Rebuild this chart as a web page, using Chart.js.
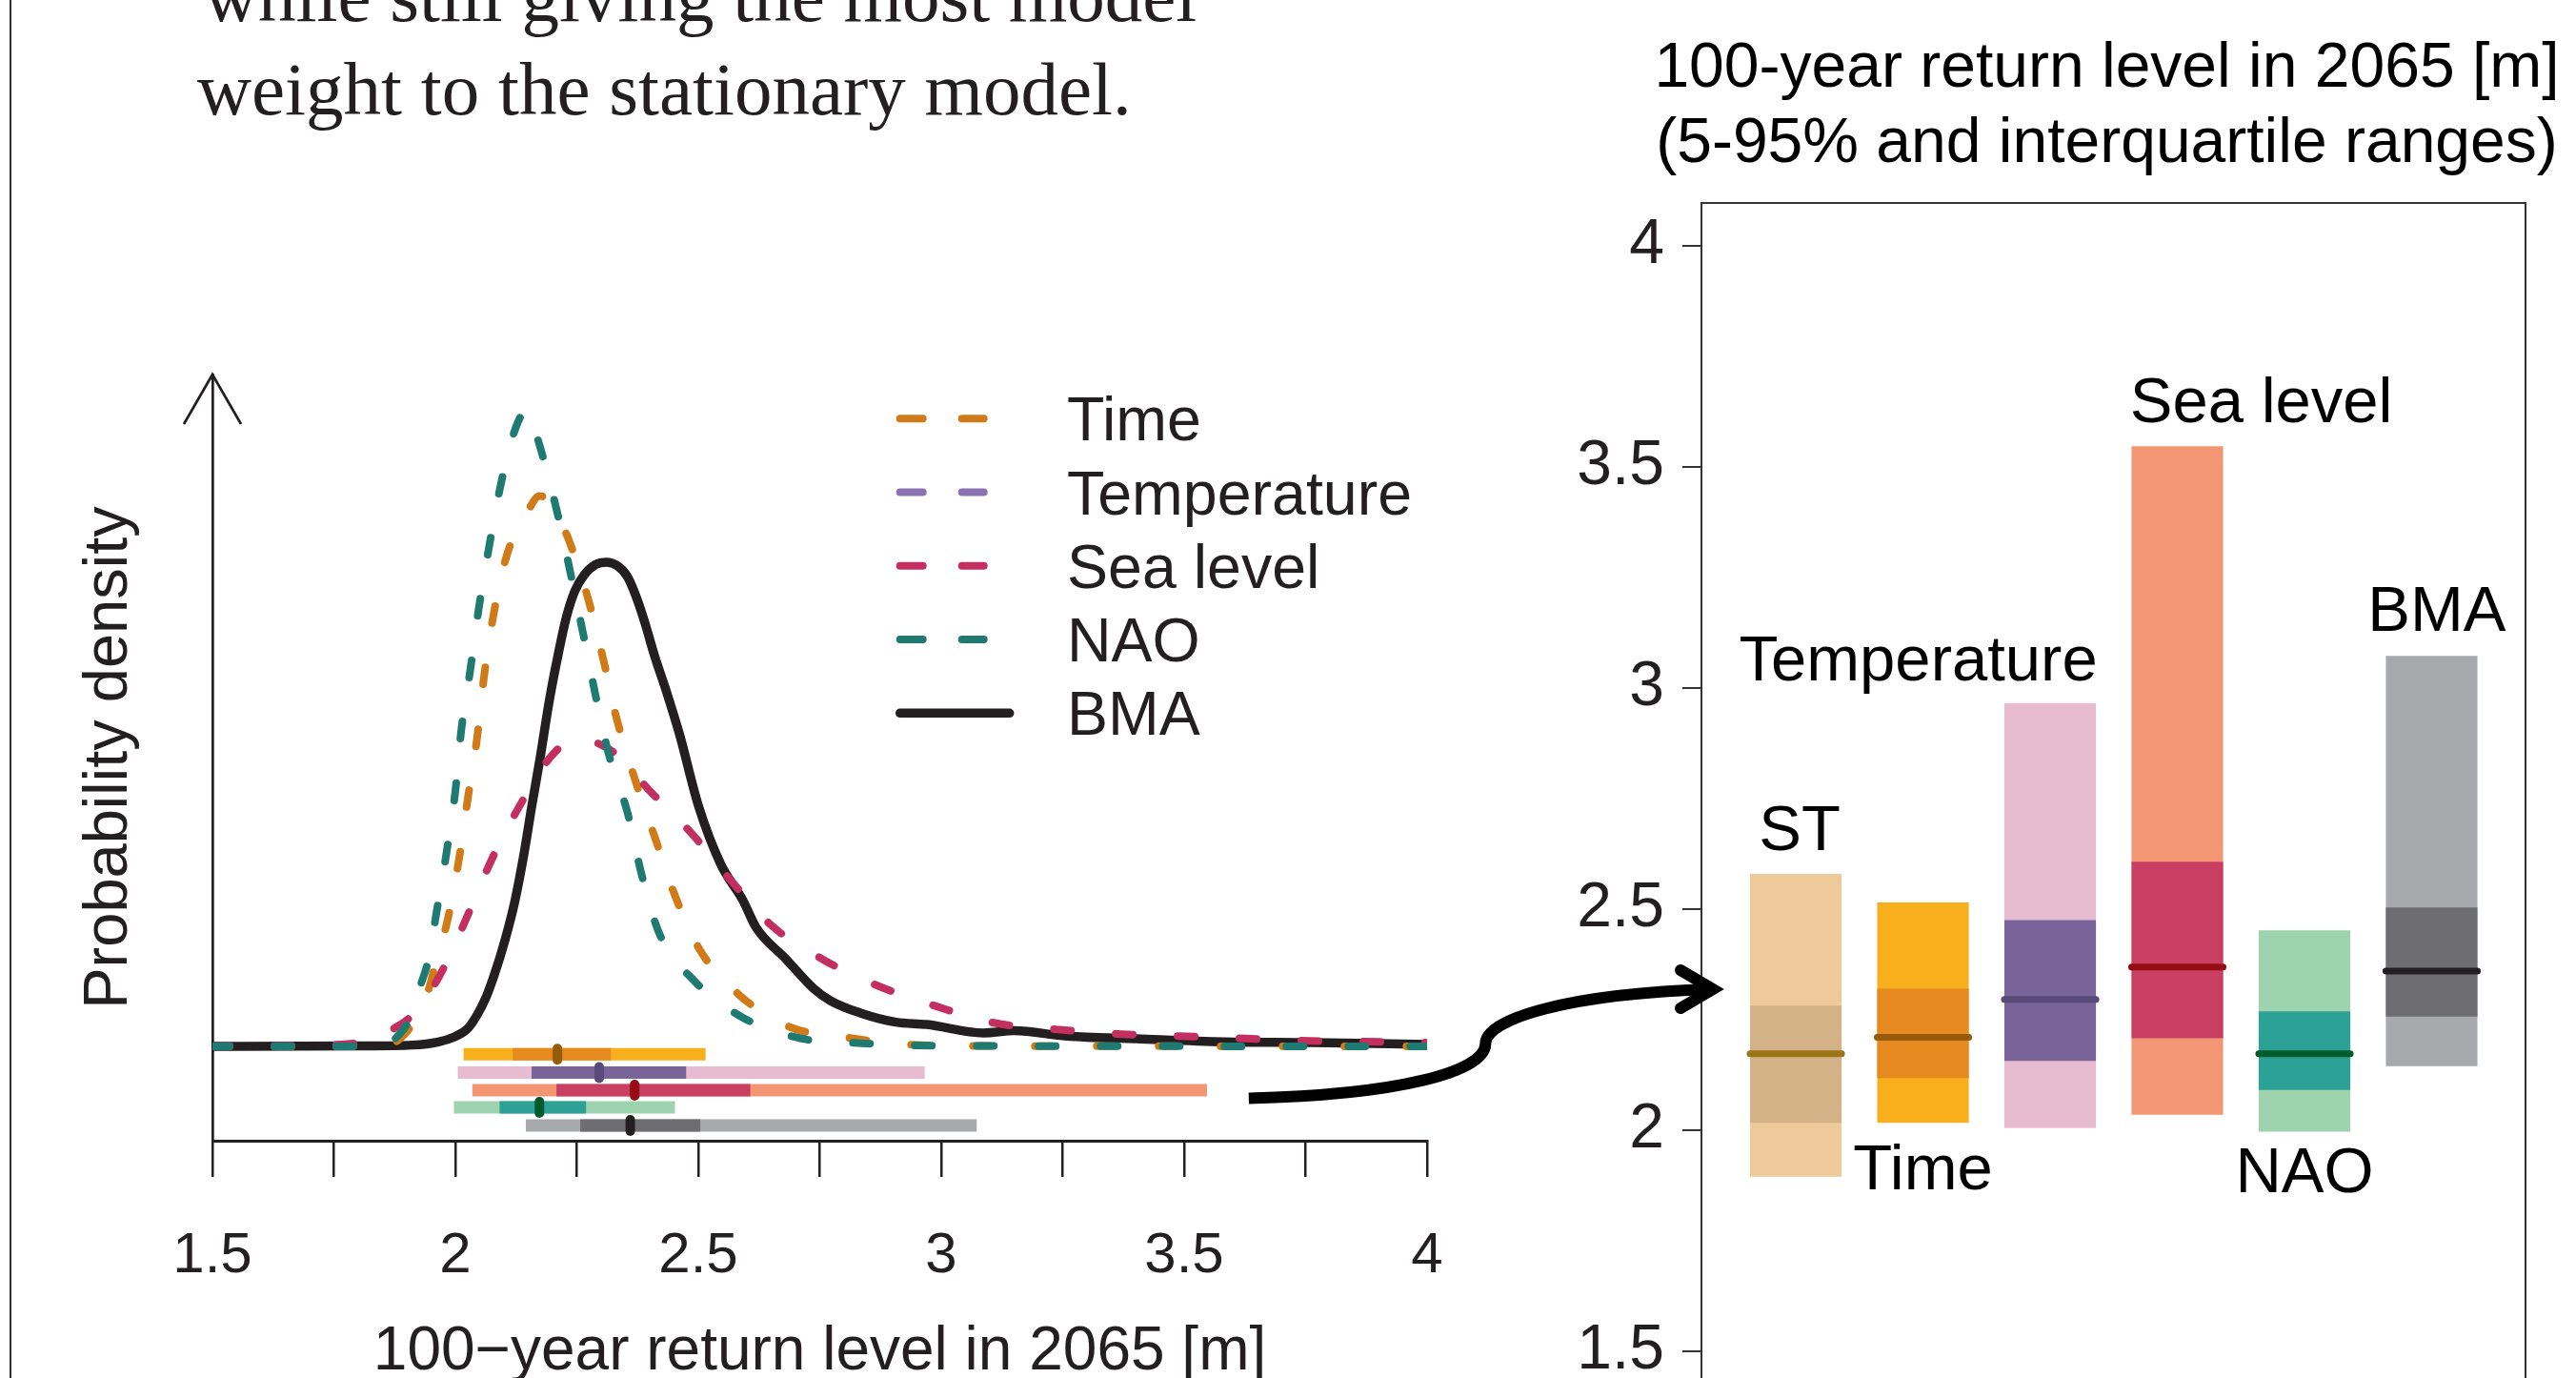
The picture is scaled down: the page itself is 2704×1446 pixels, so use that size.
<!DOCTYPE html>
<html>
<head>
<meta charset="utf-8">
<script src="https://cdn.jsdelivr.net/npm/chart.js@4/dist/chart.umd.min.js"></script>
<style>
  html, body { margin: 0; padding: 0; background: #fff; overflow: hidden; }
  #page { position: relative; width: 2704px; height: 1446px; }
  #page canvas { position: absolute; left: 0; top: 0; }
  .note { position: absolute; font-family: "Liberation Serif", serif; font-size: 79px; line-height: 1; color: #231f20; white-space: nowrap; }
  #frame { position: absolute; left: 10px; top: 0; height: 1446px; border-left: 2px solid #333; }
</style>
</head>
<body>
<div id="page">
  <div id="frame"></div>
  <div class="note" style="left:214px; top:-44px">while still giving the most model</div>
  <div class="note" style="left:207px; top:54px">weight to the stationary model.</div>
  <canvas id="density" width="2704" height="1446"></canvas>
  <canvas id="ranges" width="2704" height="1446"></canvas>
</div>
<script>
// density curves: return level [m] vs probability density
const timeLevel   = [1.5, 1.7, 1.857, 1.886, 1.914, 1.945, 1.958, 1.985, 2.008, 2.026, 2.045, 2.059, 2.078, 2.106, 2.149, 2.173, 2.187, 2.224, 2.243, 2.273, 2.304, 2.332, 2.368, 2.409, 2.45, 2.502, 2.584, 2.69, 2.813, 2.935, 3.1, 4.0]
const timeDensity = [0, 0, 0.003, 0.048, 0.153, 0.362, 0.513, 0.816, 1.2, 1.583, 1.967, 2.35, 2.734, 3.122, 3.4, 3.497, 3.481, 3.289, 3.137, 2.847, 2.466, 2.082, 1.712, 1.343, 0.974, 0.619, 0.327, 0.121, 0.053, 0.01, 0.002, 0]

const seaLevel   = [1.5, 1.75, 1.8, 1.837, 1.867, 1.912, 1.955, 1.981, 2.023, 2.072, 2.13, 2.197, 2.249, 2.285, 2.331, 2.397, 2.486, 2.566, 2.651, 2.756, 2.871, 2.988, 3.11, 3.235, 3.362, 3.488, 3.614, 3.739, 3.867, 4.0]
const seaDensity = [0, 0.01, 0.02, 0.035, 0.099, 0.2, 0.382, 0.529, 0.816, 1.169, 1.516, 1.843, 1.956, 1.936, 1.856, 1.634, 1.354, 1.058, 0.767, 0.553, 0.383, 0.256, 0.148, 0.108, 0.079, 0.065, 0.051, 0.036, 0.03, 0.023]

const naoLevel   = [1.5, 1.75, 1.857, 1.876, 1.906, 1.929, 1.944, 1.961, 1.982, 2.0, 2.012, 2.031, 2.048, 2.069, 2.092, 2.116, 2.133, 2.147, 2.173, 2.186, 2.211, 2.238, 2.264, 2.289, 2.316, 2.355, 2.383, 2.419, 2.492, 2.592, 2.71, 2.835, 3.02, 4.0]
const naoDensity = [0, 0, 0.006, 0.048, 0.176, 0.394, 0.545, 0.848, 1.236, 1.623, 2.005, 2.399, 2.78, 3.168, 3.549, 3.854, 3.996, 4.05, 3.824, 3.678, 3.377, 2.992, 2.607, 2.224, 1.853, 1.478, 1.096, 0.723, 0.415, 0.182, 0.051, 0.02, 0.003, 0]

const bmaLevel   = [1.5, 1.8, 1.912, 1.965, 1.997, 2.024, 2.043, 2.063, 2.082, 2.102, 2.122, 2.141, 2.157, 2.174, 2.194, 2.213, 2.229, 2.246, 2.265, 2.288, 2.311, 2.334, 2.354, 2.37, 2.39, 2.409, 2.435, 2.461, 2.501, 2.546, 2.592, 2.619, 2.681, 2.736, 2.772, 2.835, 2.907, 2.97, 3.087, 3.15, 3.258, 3.402, 3.582, 3.763, 4.0]
const bmaDensity = [0, 0.002, 0.008, 0.028, 0.059, 0.109, 0.19, 0.311, 0.472, 0.674, 0.916, 1.219, 1.522, 1.825, 2.209, 2.512, 2.734, 2.895, 2.996, 3.061, 3.077, 3.053, 2.986, 2.875, 2.693, 2.491, 2.249, 1.987, 1.522, 1.159, 0.927, 0.755, 0.553, 0.371, 0.29, 0.21, 0.153, 0.139, 0.085, 0.099, 0.065, 0.048, 0.029, 0.024, 0.012]

// quantiles of the 100-year return level in 2065 [m]
const models = ['ST', 'Time', 'Temperature', 'Sea level', 'NAO', 'BMA']
const q05 = [1.895, 2.017, 2.005, 2.035, 1.997, 2.145]
const q25 = [2.017, 2.118, 2.157, 2.208, 2.091, 2.257]
const q50 = [2.173, 2.210, 2.296, 2.369, 2.173, 2.360]
const q75 = [2.282, 2.320, 2.475, 2.607, 2.269, 2.504]
const q95 = [2.580, 2.515, 2.966, 3.547, 2.452, 3.073]

const xTicks = [1.5, 1.75, 2, 2.25, 2.5, 2.75, 3, 3.25, 3.5, 3.75, 4]
const xTickLabels = ['1.5', '', '2', '', '2.5', '', '3', '', '3.5', '', '4']
const yTicks = [1.5, 2, 2.5, 3, 3.5, 4]
const yTickLabels = ['1.5', '2', '2.5', '3', '3.5', '4']
const rightTitle = ['100-year return level in 2065 [m]', '(5-95% and interquartile ranges)']

const lightColors  = ['#eeca9b', '#f8af1c', '#e7bcd0', '#f29673', '#9dd4af', '#a8a9ad']
const darkColors   = ['#d4b287', '#e6891e', '#786499', '#c93f64', '#2ca195', '#6e6e72']
const medianColors = ['#9c7514', '#955a0a', '#5a4a7a', '#950c12', '#005b2c', '#231f20']

// interval rows under the density curves (density units), and label anchors on the right panel
const rowLevel = [-0.05, -0.167, -0.279, -0.388, -0.503]
const labelAtX = [0.03, 1, 0.963, 3.66, 4, 5.04]
const labelAtY = [2.634, 1.866, 3.017, 3.601, 1.86, 3.13]

Chart.defaults.font.family = '"Liberation Sans", Arial, sans-serif'
Chart.defaults.color = '#231f20'

const ink = '#231f20'

function pts(xs, ys) {
    return xs.map((x, i) => ({ x: x, y: ys[i] }))
}

function densityLine(label, xs, ys, color, dashed, order) {
    return {
        label: label,
        data: pts(xs, ys),
        borderColor: color,
        borderWidth: dashed ? 8 : 9.5,
        borderDash: dashed ? [18, 47] : [],
        borderCapStyle: 'round',
        borderJoinStyle: 'round',
        pointRadius: 0,
        fill: false,
        cubicInterpolationMode: 'monotone',
        order: order,
        isCurve: true,
        dashed: dashed
    }
}

function segment(a, b, color, width, cap, order) {
    return {
        label: '',
        data: [a, b],
        borderColor: color,
        borderWidth: width,
        borderCapStyle: cap,
        pointRadius: 0,
        tension: 0,
        order: order
    }
}

// left panel datasets
const leftSets = [
    densityLine('Time', timeLevel, timeDensity, '#d17b18', true, 9),
    densityLine('Temperature', [], [], '#8a73b3', true, 9),
    densityLine('Sea level', seaLevel, seaDensity, '#c3305f', true, 8),
    densityLine('NAO', naoLevel, naoDensity, '#1f7b71', true, 7),
    densityLine('BMA', bmaLevel, bmaDensity, ink, false, 10)
]
for (let i = 1; i < models.length; i++) {
    const row = rowLevel[i - 1]
    leftSets.push(segment({ x: q05[i], y: row }, { x: q95[i], y: row }, lightColors[i], 13, 'butt', 5))
    leftSets.push(segment({ x: q25[i], y: row }, { x: q75[i], y: row }, darkColors[i], 13, 'butt', 4))
    leftSets.push(segment({ x: q50[i], y: row + 0.036 }, { x: q50[i], y: row - 0.036 }, medianColors[i], 10, 'round', 3))
}

const legendPlugin = {
    id: 'curveLegend',
    afterDraw(chart) {
        const { ctx, chartArea } = chart
        const x0 = chartArea.left + 721.7
        const textX = chartArea.left + 897
        ctx.save()
        ctx.font = '64.5px "Liberation Sans", Arial, sans-serif'
        ctx.textBaseline = 'alphabetic'
        ctx.textAlign = 'left'
        chart.data.datasets.filter(d => d.isCurve).forEach((d, i) => {
            const y = chartArea.top + 46.3 + i * 77.25
            ctx.strokeStyle = d.borderColor
            ctx.lineWidth = d.borderWidth
            ctx.lineCap = 'round'
            ctx.setLineDash(d.dashed ? [24, 41] : [])
            ctx.beginPath()
            ctx.moveTo(x0, y)
            ctx.lineTo(d.dashed ? x0 + 88 : x0 + 115, y)
            ctx.stroke()
            ctx.setLineDash([])
            ctx.fillStyle = ink
            ctx.fillText(d.label, textX, y + 23)
        })
        ctx.restore()
    }
}

const axisArrow = {
    id: 'axisArrow',
    afterDraw(chart) {
        const { ctx, chartArea } = chart
        ctx.save()
        ctx.strokeStyle = ink
        ctx.lineWidth = 2.7
        ctx.beginPath()
        ctx.moveTo(chartArea.left - 30, chartArea.top + 52)
        ctx.lineTo(chartArea.left, chartArea.top)
        ctx.lineTo(chartArea.left + 30, chartArea.top + 52)
        ctx.stroke()
        ctx.restore()
    }
}

const leftChart = new Chart(document.getElementById('density').getContext('2d'), {
    type: 'line',
    data: { datasets: leftSets },
    options: {
        responsive: false,
        animation: false,
        layout: { padding: { left: 83, top: 393, right: 1206, bottom: 0 } },
        plugins: { legend: { display: false }, tooltip: { enabled: false } },
        scales: {
            x: {
                type: 'linear', min: 1.5, max: 4,
                afterBuildTicks: s => { s.ticks = xTicks.map(v => ({ value: v })) },
                afterFit: s => { s.height = 249; s.paddingLeft = 0; s.paddingRight = 0 },
                grid: { drawOnChartArea: false, drawTicks: true, tickLength: 38, color: ink, lineWidth: 2.5 },
                border: { display: true, color: ink, width: 3 },
                ticks: { autoSkip: false, maxRotation: 0, padding: 47, font: { size: 60 }, color: ink,
                    callback: (v, i) => xTickLabels[i] },
                title: { display: true, text: '100\u2212year return level in 2065 [m]', font: { size: 64, lineHeight: 1 },
                    padding: { top: 0, bottom: -5 }, color: ink }
            },
            y: {
                type: 'linear', min: -0.6, max: 4.27,
                afterFit: s => { s.width = 140; s.paddingTop = 0; s.paddingBottom = 0 },
                grid: { display: false },
                border: { display: true, color: ink, width: 2.7 },
                ticks: { display: false },
                title: { display: true, text: 'Probability density', font: { size: 65, lineHeight: 1 }, padding: 0, color: ink }
            }
        }
    },
    plugins: [legendPlugin, axisArrow]
})

// right panel
const rightSets = [
    {
        type: 'bar', label: '5-95%',
        data: models.map((m, i) => ({ x: i, y: [q05[i], q95[i]] })),
        backgroundColor: lightColors, grouped: false, barPercentage: 0.72, categoryPercentage: 1, order: 3
    },
    {
        type: 'bar', label: 'interquartile',
        data: models.map((m, i) => ({ x: i, y: [q25[i], q75[i]] })),
        backgroundColor: darkColors, grouped: false, barPercentage: 0.72, categoryPercentage: 1, order: 2
    }
]
models.forEach((m, i) => {
    rightSets.push(Object.assign(segment({ x: i - 0.36, y: q50[i] }, { x: i + 0.36, y: q50[i] }, medianColors[i], 7, 'round', 1), { type: 'line' }))
})

const boxPlugin = {
    id: 'boxAndLabels',
    afterDraw(chart) {
        const { ctx, chartArea, scales } = chart
        ctx.save()
        ctx.strokeStyle = '#333'
        ctx.lineWidth = 2
        ctx.beginPath()
        ctx.moveTo(chartArea.left, chartArea.top)
        ctx.lineTo(chartArea.right, chartArea.top)
        ctx.lineTo(chartArea.right, chartArea.bottom + 5)
        ctx.stroke()

        // panel title
        const cx = (chartArea.left + chartArea.right) / 2 - 7
        ctx.fillStyle = '#000'
        ctx.textAlign = 'center'
        ctx.textBaseline = 'alphabetic'
        ctx.font = '66px "Liberation Sans", Arial, sans-serif'
        ctx.fillText(rightTitle[0], cx, chartArea.top - 122)
        ctx.fillText(rightTitle[1], cx, chartArea.top - 43)

        ctx.font = '67px "Liberation Sans", Arial, sans-serif'
        models.forEach((m, i) => {
            ctx.fillText(m, scales.x.getPixelForValue(labelAtX[i]), scales.y.getPixelForValue(labelAtY[i]))
        })

        // arrow from the interval rows to the right panel
        const arrowFrom = [3.633, -0.33]
        const arrowTo = [-0.652, 2.319]
        const s = { x: leftChart.scales.x.getPixelForValue(arrowFrom[0]), y: leftChart.scales.y.getPixelForValue(arrowFrom[1]) }
        const e = { x: scales.x.getPixelForValue(arrowTo[0]), y: scales.y.getPixelForValue(arrowTo[1]) }
        const w = e.x - s.x, h = s.y - e.y
        const m = { x: s.x + 0.51 * w, y: s.y - 0.5 * h }
        ctx.strokeStyle = '#000'
        ctx.lineWidth = 12
        ctx.lineCap = 'butt'
        ctx.beginPath()
        ctx.moveTo(s.x, s.y)
        ctx.bezierCurveTo(s.x + 0.32 * w, s.y - 0.03 * h, m.x, m.y + 0.26 * h, m.x, m.y)
        ctx.bezierCurveTo(m.x, m.y - 0.23 * h, m.x + 0.18 * w, e.y + 0.04 * h, e.x, e.y)
        ctx.stroke()
        ctx.lineCap = 'round'
        ctx.lineJoin = 'miter'
        ctx.beginPath()
        ctx.moveTo(e.x - 34, e.y - 20)
        ctx.lineTo(e.x, e.y)
        ctx.lineTo(e.x - 34, e.y + 20)
        ctx.stroke()
        ctx.restore()
    }
}

new Chart(document.getElementById('ranges').getContext('2d'), {
    type: 'bar',
    data: { datasets: rightSets },
    options: {
        responsive: false,
        animation: false,
        layout: { padding: { left: 1586, right: 53, top: 213, bottom: 0 } },
        plugins: { legend: { display: false }, tooltip: { enabled: false } },
        scales: {
            x: {
                type: 'linear', min: -0.742, max: 5.738, display: false, offset: false,
                afterBuildTicks: s => { s.ticks = models.map((m, i) => ({ value: i })) }
            },
            y: {
                type: 'linear', min: 1.4397, max: 4.097,
                afterBuildTicks: s => { s.ticks = yTicks.map(v => ({ value: v })) },
                afterFit: s => { s.width = 200; s.paddingTop = 0; s.paddingBottom = 0 },
                grid: { drawOnChartArea: false, drawTicks: true, tickLength: 20, color: '#333', lineWidth: 2 },
                border: { display: true, color: '#333', width: 2 },
                ticks: { padding: 19, font: { size: 66 }, color: ink, callback: (v, i) => yTickLabels[i] }
            }
        }
    },
    plugins: [boxPlugin]
})
</script>
</body>
</html>
